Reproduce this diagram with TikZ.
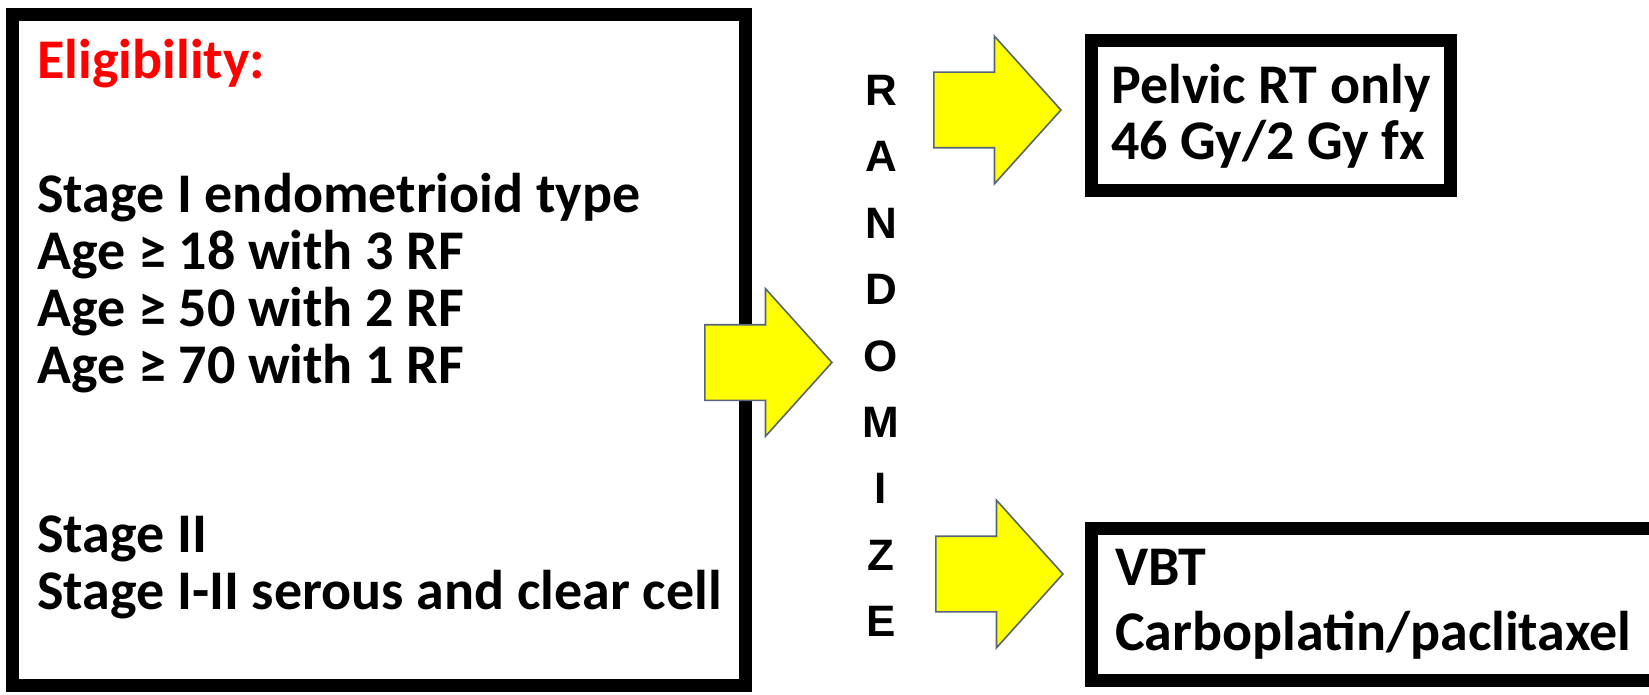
\documentclass[tikz,border=0pt]{standalone}
\usepackage{fontspec}
\setmainfont{Carlito}
\newfontfamily\randfont{Liberation Sans}
\usepackage{tikz}
\usetikzlibrary{
  positioning,
  shapes.arrows,
}
\definecolor{eligRed}{HTML}{FF0000}
\definecolor{arrowFill}{HTML}{FFFF00}
\definecolor{arrowEdge}{HTML}{56667A}
\tikzset{
  thickbox/.style={
    rectangle, draw=black, line width=6.5pt, fill=white, inner sep=0pt,
  },
  armbox/.style={
    thickbox, anchor=west, align=left, inner xsep=10pt,
    font=\fontsize{28pt}{28pt}\selectfont\bfseries,
  },
  bodytext/.style={
    inner sep=0pt, align=left,
    font=\fontsize{28pt}{28.5pt}\selectfont\bfseries,
  },
  randcol/.style={
    inner sep=0pt, align=center,
    font=\randfont\fontsize{22pt}{33.2pt}\selectfont\bfseries,
  },
  blockArrow/.style={
    single arrow, draw=arrowEdge, fill=arrowFill, line width=0.8pt,
    inner xsep=0pt, inner ysep=18.5pt, minimum width=73pt,
    minimum height=63.5pt, single arrow head extend=18pt,
    single arrow tip angle=96, anchor=tip,
  },
}

\begin{document}
\begin{tikzpicture}[x=0.5pt, y=-0.5pt]
\useasboundingbox (0,0) rectangle (1649,695);
\clip (0,0) rectangle (1649,695);

% eligibility box
\node[thickbox, minimum width=366.5pt, minimum height=335.5pt] (elig) at (379,350) {};
\node[bodytext, anchor=base west] (eligTxt) at (37,609) {%
  \textcolor{eligRed}{Eligibility:}\\[38.5pt]
  Stage I endometrioid type\\
  Age ≥ 18 with 3 RF\\
  Age ≥ 50 with 2 RF\\
  Age ≥ 70 with 1 RF\\[56pt]
  Stage II\\
  Stage I-II serous and clear cell%
};

\node[randcol] (rand) at (881,356) {R\\A\\N\\D\\O\\M\\I\\Z\\E};

% arms
\node[armbox, minimum width=179pt, minimum height=75pt]
  (pelvic) at (1085,116) {Pelvic RT only\\46 Gy/2 Gy fx};
\node[armbox, minimum width=306pt, minimum height=76pt, inner xsep=11.75pt,
  text width=282.5pt, font=\fontsize{28pt}{32.5pt}\selectfont\bfseries]
  (vbt) at (1085,604.5) {VBT\\Carboplatin/paclitaxel};

% yellow arrows
\node[blockArrow] (arrMid) at (833,362.5) {};
\node[blockArrow] (arrTop) at (1062,110) {};
\node[blockArrow] (arrBot) at (1064,574) {};

\end{tikzpicture}
\end{document}
